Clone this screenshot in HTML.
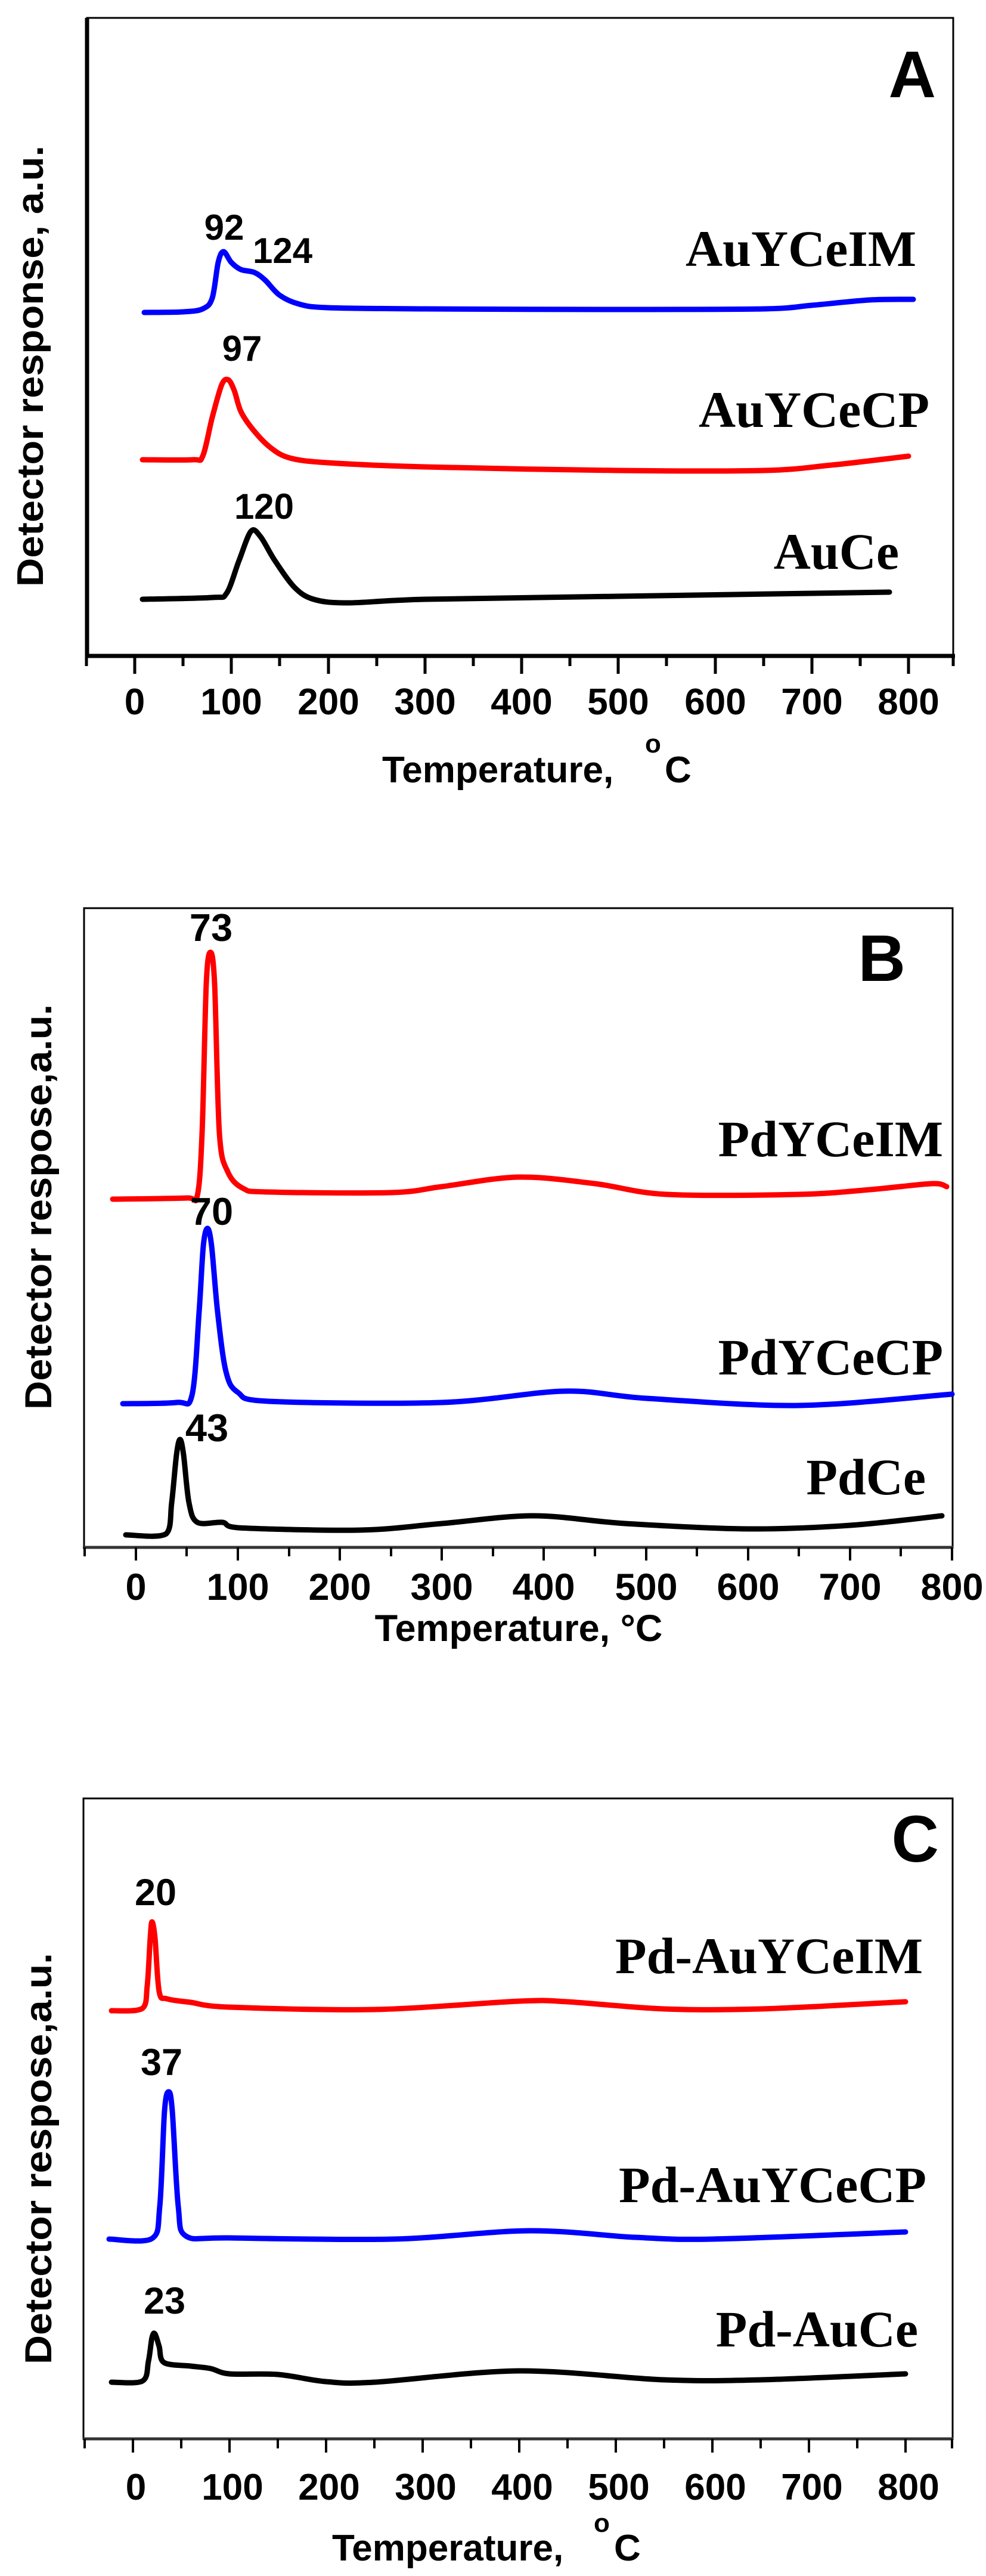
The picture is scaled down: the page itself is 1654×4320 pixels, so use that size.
<!DOCTYPE html>
<html><head><meta charset="utf-8"><style>
html,body{margin:0;padding:0;background:#fff;}
svg{display:block;}
.t{font-family:"Liberation Sans",Arial,sans-serif;font-weight:bold;fill:#000;}
.s{font-family:"Liberation Serif","Times New Roman",serif;font-weight:bold;fill:#000;}
.c{fill:none;stroke-width:9;stroke-linejoin:round;stroke-linecap:round;}
</style></head><body>
<svg id="sv" width="1654" height="4320" viewBox="0 0 1654 4320" xmlns="http://www.w3.org/2000/svg">
<rect width="1654" height="4320" fill="#fff"/>

<!-- ===== Panel A ===== -->
<rect x="146" y="30" width="1453" height="1070" fill="none" stroke="#000" stroke-width="3"/>
<line x1="146" y1="30" x2="146" y2="1103" stroke="#000" stroke-width="7"/>
<line x1="143" y1="1100" x2="1602" y2="1100" stroke="#000" stroke-width="7"/>
<g stroke="#000" stroke-width="5">
<line x1="145" y1="1100" x2="145" y2="1117"/>
<line x1="226" y1="1100" x2="226" y2="1130"/><line x1="307" y1="1100" x2="307" y2="1117"/>
<line x1="388" y1="1100" x2="388" y2="1130"/><line x1="469" y1="1100" x2="469" y2="1117"/>
<line x1="551" y1="1100" x2="551" y2="1130"/><line x1="632" y1="1100" x2="632" y2="1117"/>
<line x1="713" y1="1100" x2="713" y2="1130"/><line x1="794" y1="1100" x2="794" y2="1117"/>
<line x1="875" y1="1100" x2="875" y2="1130"/><line x1="956" y1="1100" x2="956" y2="1117"/>
<line x1="1037" y1="1100" x2="1037" y2="1130"/><line x1="1118" y1="1100" x2="1118" y2="1117"/>
<line x1="1200" y1="1100" x2="1200" y2="1130"/><line x1="1281" y1="1100" x2="1281" y2="1117"/>
<line x1="1362" y1="1100" x2="1362" y2="1130"/><line x1="1443" y1="1100" x2="1443" y2="1117"/>
<line x1="1524" y1="1100" x2="1524" y2="1130"/><line x1="1599" y1="1100" x2="1599" y2="1117"/>
</g>
<g class="t" font-size="62" text-anchor="middle">
<text x="226" y="1198">0</text><text x="388" y="1198">100</text><text x="551" y="1198">200</text>
<text x="713" y="1198">300</text><text x="875" y="1198">400</text><text x="1037" y="1198">500</text>
<text x="1200" y="1198">600</text><text x="1362" y="1198">700</text><text x="1524" y="1198">800</text>
</g>
<text class="t" font-size="62" x="641" y="1312">Temperature,</text>
<text class="t" font-size="44" x="1082" y="1262">o</text>
<text class="t" font-size="62" x="1115" y="1312">C</text>
<text class="t" font-size="62" transform="translate(72,614) rotate(-90)" text-anchor="middle" textLength="740" lengthAdjust="spacingAndGlyphs">Detector response, a.u.</text>
<text class="t" font-size="110" x="1570" y="163" text-anchor="end">A</text>

<polyline class="c" stroke="#0000ff" points="242,524 307,523 340,518 356,500 366,440 375,422 388,440 404,452 427,457 445,470 469,495 502,510 550,516 713,518 1037,519 1281,518 1362,512 1459,503 1532,502"/>
<polyline class="c" stroke="#ff0000" points="239,771 323,771 340,765 356,700 372,645 383,637 393,655 404,690 424,720 453,750 486,768 550,776 713,783 1037,789 1281,789 1394,780 1524,765"/>
<polyline class="c" stroke="#000" points="239,1005 356,1002 380,995 401,940 421,891 437,900 461,940 494,985 526,1005 583,1011 713,1005 1037,1000 1492,993"/>

<g class="t" font-size="60">
<text x="376" y="402" text-anchor="middle">92</text>
<text x="424" y="441">124</text>
<text x="406" y="605" text-anchor="middle">97</text>
<text x="443" y="870" text-anchor="middle">120</text>
</g>
<g class="s" font-size="86" text-anchor="end">
<text x="1537" y="446">AuYCeIM</text>
<text x="1559" y="716">AuYCeCP</text>
<text x="1508" y="954">AuCe</text>
</g>

<!-- ===== Panel B ===== -->
<rect x="141" y="1523" width="1457" height="1072" fill="none" stroke="#000" stroke-width="3"/>
<line x1="139" y1="2595" x2="1599" y2="2595" stroke="#333" stroke-width="5"/>
<g stroke="#000" stroke-width="4">
<line x1="142" y1="2595" x2="142" y2="2610"/>
<line x1="228" y1="2595" x2="228" y2="2617"/><line x1="313" y1="2595" x2="313" y2="2610"/>
<line x1="399" y1="2595" x2="399" y2="2617"/><line x1="485" y1="2595" x2="485" y2="2610"/>
<line x1="570" y1="2595" x2="570" y2="2617"/><line x1="656" y1="2595" x2="656" y2="2610"/>
<line x1="741" y1="2595" x2="741" y2="2617"/><line x1="827" y1="2595" x2="827" y2="2610"/>
<line x1="912" y1="2595" x2="912" y2="2617"/><line x1="998" y1="2595" x2="998" y2="2610"/>
<line x1="1084" y1="2595" x2="1084" y2="2617"/><line x1="1169" y1="2595" x2="1169" y2="2610"/>
<line x1="1255" y1="2595" x2="1255" y2="2617"/><line x1="1340" y1="2595" x2="1340" y2="2610"/>
<line x1="1426" y1="2595" x2="1426" y2="2617"/><line x1="1511" y1="2595" x2="1511" y2="2610"/>
<line x1="1597" y1="2595" x2="1597" y2="2617"/>
</g>
<g class="t" font-size="63" text-anchor="middle">
<text x="228" y="2683">0</text><text x="399" y="2683">100</text><text x="570" y="2683">200</text>
<text x="741" y="2683">300</text><text x="912" y="2683">400</text><text x="1084" y="2683">500</text>
<text x="1255" y="2683">600</text><text x="1426" y="2683">700</text><text x="1597" y="2683">800</text>
</g>
<text class="t" font-size="63" x="870" y="2752" text-anchor="middle">Temperature, °C</text>
<text class="t" font-size="63" transform="translate(86,2024) rotate(-90)" text-anchor="middle" textLength="680" lengthAdjust="spacingAndGlyphs">Detector respose,a.u.</text>
<text class="t" font-size="110" x="1519" y="1645" text-anchor="end">B</text>

<polyline class="c" stroke="#ff0000" points="189,2011 314,2009 331,2005 339,1900 346,1650 353,1597 360,1650 368,1900 382,1965 408,1993 450,1999 656,2000 741,1990 870,1974 998,1985 1118,2003 1340,2003 1460,1995 1563,1985 1588,1990"/>
<polyline class="c" stroke="#0000ff" points="206,2354 296,2352 322,2340 334,2200 341,2090 348,2060 355,2090 365,2200 379,2300 399,2335 450,2350 741,2352 947,2333 1084,2345 1340,2357 1597,2338"/>
<polyline class="c" stroke="#000" points="211,2574 279,2572 288,2520 296,2440 302,2414 308,2440 317,2520 331,2553 373,2553 399,2562 604,2566 741,2555 895,2542 1049,2555 1255,2564 1426,2558 1580,2542"/>

<g class="t" font-size="65" text-anchor="middle">
<text x="354" y="1578">73</text>
<text x="355" y="2054">70</text>
<text x="347" y="2417">43</text>
</g>
<g class="s" font-size="86" text-anchor="end">
<text x="1582" y="1939">PdYCeIM</text>
<text x="1582" y="2305">PdYCeCP</text>
<text x="1553" y="2506">PdCe</text>
</g>

<!-- ===== Panel C ===== -->
<rect x="140" y="3016" width="1458" height="1074" fill="none" stroke="#000" stroke-width="3"/>
<line x1="139" y1="4090" x2="1599" y2="4090" stroke="#333" stroke-width="5"/>
<g stroke="#000" stroke-width="4">
<line x1="142" y1="4090" x2="142" y2="4106"/>
<line x1="223" y1="4090" x2="223" y2="4113"/><line x1="304" y1="4090" x2="304" y2="4106"/>
<line x1="385" y1="4090" x2="385" y2="4113"/><line x1="466" y1="4090" x2="466" y2="4106"/>
<line x1="547" y1="4090" x2="547" y2="4113"/><line x1="628" y1="4090" x2="628" y2="4106"/>
<line x1="709" y1="4090" x2="709" y2="4113"/><line x1="790" y1="4090" x2="790" y2="4106"/>
<line x1="871" y1="4090" x2="871" y2="4113"/><line x1="952" y1="4090" x2="952" y2="4106"/>
<line x1="1033" y1="4090" x2="1033" y2="4113"/><line x1="1114" y1="4090" x2="1114" y2="4106"/>
<line x1="1195" y1="4090" x2="1195" y2="4113"/><line x1="1276" y1="4090" x2="1276" y2="4106"/>
<line x1="1357" y1="4090" x2="1357" y2="4113"/><line x1="1438" y1="4090" x2="1438" y2="4106"/>
<line x1="1519" y1="4090" x2="1519" y2="4113"/><line x1="1597" y1="4090" x2="1597" y2="4106"/>
</g>
<g class="t" font-size="62" text-anchor="middle">
<text x="228" y="4192">0</text><text x="390" y="4192">100</text><text x="552" y="4192">200</text>
<text x="714" y="4192">300</text><text x="876" y="4192">400</text><text x="1038" y="4192">500</text>
<text x="1200" y="4192">600</text><text x="1362" y="4192">700</text><text x="1524" y="4192">800</text>
</g>
<text class="t" font-size="62" x="557" y="4294">Temperature,</text>
<text class="t" font-size="44" x="996" y="4246">o</text>
<text class="t" font-size="62" x="1030" y="4294">C</text>
<text class="t" font-size="63" transform="translate(86,3620) rotate(-90)" text-anchor="middle" textLength="690" lengthAdjust="spacingAndGlyphs">Detector respose,a.u.</text>
<text class="t" font-size="110" x="1575" y="3122" text-anchor="end">C</text>

<polyline class="c" stroke="#ff0000" points="187,3372 239,3368 247,3330 252,3250 255,3223 260,3250 267,3340 280,3352 320,3358 385,3366 628,3370 871,3356 952,3357 1114,3369 1276,3369 1519,3357"/>
<polyline class="c" stroke="#0000ff" points="183,3755 255,3754 268,3700 276,3540 283,3508 289,3540 299,3700 312,3750 385,3753 660,3755 887,3741 1065,3752 1195,3755 1519,3743"/>
<polyline class="c" stroke="#000" points="187,3995 239,3993 249,3960 255,3920 260,3914 267,3935 275,3962 320,3968 353,3972 385,3981 466,3982 547,3994 628,3995 871,3976 1114,3991 1276,3991 1519,3981"/>

<g class="t" font-size="63" text-anchor="middle">
<text x="261" y="3195">20</text>
<text x="271" y="3480">37</text>
<text x="276" y="3880">23</text>
</g>
<g class="s" font-size="86" text-anchor="end">
<text x="1548" y="3309">Pd-AuYCeIM</text>
<text x="1554" y="3693">Pd-AuYCeCP</text>
<text x="1540" y="3935">Pd-AuCe</text>
</g>
</svg>
<script>
(function(){
var NS="http://www.w3.org/2000/svg";
var pls=document.querySelectorAll("polyline.c");
for(var k=0;k<pls.length;k++){
 var pl=pls[k];
 var p=pl.getAttribute("points").trim().split(/\s+/).map(function(s){var a=s.split(",");return [+a[0],+a[1]];});
 var d="M"+p[0][0]+","+p[0][1];
 for(var i=0;i<p.length-1;i++){
  var p0=p[i-1]||p[i],p1=p[i],p2=p[i+1],p3=p[i+2]||p2;
  var t=0.16;
  var c1x=p1[0]+(p2[0]-p0[0])*t,c1y=p1[1]+(p2[1]-p0[1])*t;
  var c2x=p2[0]-(p3[0]-p1[0])*t,c2y=p2[1]-(p3[1]-p1[1])*t;
  if(c1x>p2[0])c1x=p2[0]; if(c2x<p1[0])c2x=p1[0];
  d+=" C"+c1x.toFixed(1)+","+c1y.toFixed(1)+" "+c2x.toFixed(1)+","+c2y.toFixed(1)+" "+p2[0]+","+p2[1];
 }
 var path=document.createElementNS(NS,"path");
 path.setAttribute("d",d);
 path.setAttribute("class","c");
 path.setAttribute("stroke",pl.getAttribute("stroke"));
 pl.parentNode.replaceChild(path,pl);
}
})();
</script>
</body></html>
